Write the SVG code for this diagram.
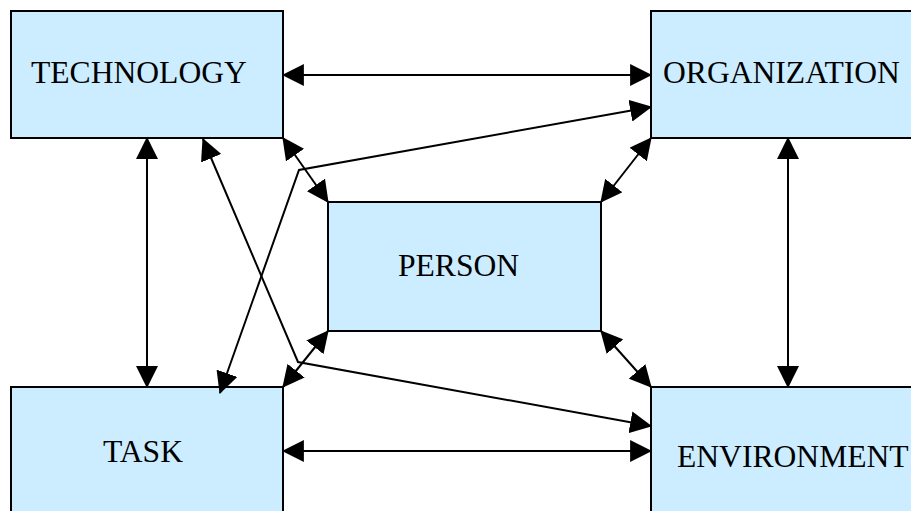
<svg xmlns="http://www.w3.org/2000/svg" width="911" height="511" viewBox="0 0 911 511">
  <style>
    .box { fill: #CCECFF; stroke: #000; stroke-width: 2; }
    .label { font-family: "Liberation Serif", "Times New Roman", serif; font-size: 31.6px; fill: #000; }
    .link { fill: none; stroke: #000; stroke-width: 2; marker-start: url(#head); marker-end: url(#head); }
  </style>
  <defs>
    <marker id="head" markerUnits="userSpaceOnUse" markerWidth="22" markerHeight="22" viewBox="0 0 20 20" refX="19" refY="10" orient="auto-start-reverse">
      <path d="M0,0 L20,10 L0,20 Z" fill="#000"/>
    </marker>
  </defs>
  <rect width="911" height="511" fill="#fff"/>

  <g id="technology">
    <rect class="box" x="11" y="11" width="272" height="127"/>
    <text class="label" x="31" y="83">TECHNOLOGY</text>
  </g>
  <g id="organization">
    <rect class="box" x="651" y="11" width="280" height="127"/>
    <text class="label" x="663" y="83">ORGANIZATION</text>
  </g>
  <g id="person">
    <rect class="box" x="328" y="202" width="273" height="129"/>
    <text class="label" x="398" y="276">PERSON</text>
  </g>
  <g id="task">
    <rect class="box" x="11" y="387" width="272" height="140"/>
    <text class="label" x="103" y="462">TASK</text>
  </g>
  <g id="environment">
    <rect class="box" x="651" y="387" width="280" height="140"/>
    <text class="label" x="677" y="467">ENVIRONMENT</text>
  </g>

  <g id="connectors">
    <path class="link" d="M283,75 L651,75"/>
    <path class="link" d="M283,451 L651,451"/>
    <path class="link" d="M147,138 L147,387"/>
    <path class="link" d="M788,138 L788,387"/>
    <path class="link" d="M283,138 L328,202"/>
    <path class="link" d="M651,138 L601,202"/>
    <path class="link" d="M328,331 L283,387"/>
    <path class="link" d="M601,331 L651,387"/>
    <path class="link" d="M220,393 L299,170 L651,107"/>
    <path class="link" d="M203,139 L298,362 L651,426"/>
  </g>
</svg>
